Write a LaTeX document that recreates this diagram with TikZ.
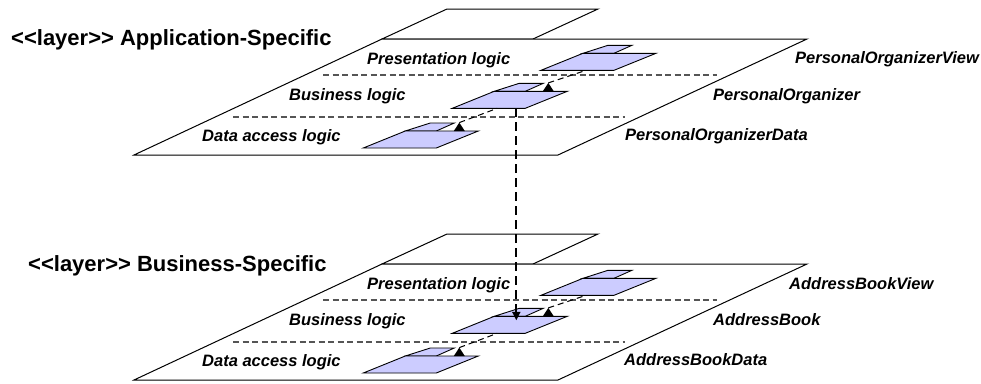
\documentclass[tikz,border=0pt]{standalone}
\usepackage{fontspec}
\setmainfont{Liberation Sans}
\usetikzlibrary{arrows.meta}
\definecolor{pkgfill}{HTML}{CCCCFF}
\definecolor{sepgray}{HTML}{555555}

\tikzset{
  plane/.style={draw=black, line width=1pt, fill=white, line join=miter},
  sep/.style={draw=sepgray, line width=1.2pt, dash pattern=on 6pt off 3.5pt},
  pkgshape/.style={draw=black, line width=0.9pt, fill=pkgfill},
  dep/.style={draw=black, line width=1pt, dash pattern=on 6pt off 4pt},
  vdep/.style={draw=black, line width=2pt, dash pattern=on 9pt off 5pt,
    -{Triangle[width=8pt,length=8.5pt]}},
  title/.style={font=\fontsize{22}{26}\selectfont\bfseries, anchor=base west, inner sep=0pt},
  tier/.style={font=\fontsize{16.5}{20}\selectfont\bfseries\itshape, anchor=base west, inner sep=0pt},
  % UML package icon, placed by the bottom-left corner of its body
  pkg/.pic={
    \path[pkgshape] (42,-17) -- (73,-17) -- (91,-25) -- (67,-25) -- cycle;
    \path[pkgshape] (0,0) -- (73,0) -- (115,-17) -- (42,-17) -- cycle;
    \coordinate (-in) at (45,0);
    \coordinate (-tip) at (96,-25.4);
    \coordinate (-down) at (64,0);
    \coordinate (-head) at (64,-13);
  }
}

\begin{document}
\begin{tikzpicture}[x=1pt,y=-1pt]
\useasboundingbox (0,0) rectangle (981,383);

% ---------- application-specific layer ----------
\path[plane] (447,9) -- (598,9) -- (533,39) -- (382,39) -- cycle;
\path[plane] (382,39) -- (807,39) -- (558,155) -- (134,155) -- cycle;
\draw[sep] (323,75) -- (717,75);
\draw[sep] (233,117) -- (625,117);

\node[title] (appTitle) at (11,45) {<{}<layer>{}> Application-Specific};
\node[tier] (appPres) at (367,64) {Presentation logic};
\node[tier] (appBus) at (289,100) {Business logic};
\node[tier] (appData) at (202,141) {Data access logic};
\node[tier] (appViewName) at (795,63.5) {PersonalOrganizerView};
\node[tier] (appCoreName) at (713,100) {PersonalOrganizer};
\node[tier] (appDataName) at (625,140.5) {PersonalOrganizerData};

\pic (av) at (541,70.3) {pkg};
\pic (ab) at (452.3,108.3) {pkg};
\pic (ad) at (363.3,148) {pkg};

\draw[dep] (ab-tip) -- (av-in);
\fill (ab-tip) -- ++(-5.5,8.4) -- ++(11,0) -- cycle;
\draw[dep] (ad-tip) -- (ab-in);
\fill (ad-tip) -- ++(-5.5,8.4) -- ++(11,0) -- cycle;

% ---------- business-specific layer ----------
\begin{scope}[shift={(0,225)}]
\path[plane] (447,9) -- (598,9) -- (533,39) -- (382,39) -- cycle;
\path[plane] (382,39) -- (807,39) -- (558,155) -- (134,155) -- cycle;
\draw[sep] (323,75) -- (717,75);
\draw[sep] (233,117) -- (625,117);

\node[title] (busTitle) at (28,46.7) {<{}<layer>{}> Business-Specific};
\node[tier] (busPres) at (367,64) {Presentation logic};
\node[tier] (busBus) at (289,100) {Business logic};
\node[tier] (busData) at (202,141) {Data access logic};
\node[tier] (busViewName) at (789,64) {AddressBookView};
\node[tier] (busCoreName) at (713,100) {AddressBook};
\node[tier] (busDataName) at (624,140.5) {AddressBookData};

\pic (bv) at (541,70.3) {pkg};
\pic (bb) at (452.3,108.3) {pkg};
\pic (bd) at (363.3,148) {pkg};

\draw[dep] (bb-tip) -- (bv-in);
\fill (bb-tip) -- ++(-5.5,8.4) -- ++(11,0) -- cycle;
\draw[dep] (bd-tip) -- (bb-in);
\fill (bd-tip) -- ++(-5.5,8.4) -- ++(11,0) -- cycle;
\end{scope}

% ---------- dependency between the layers ----------
\draw[vdep] (ab-down) -- (bb-head);
\end{tikzpicture}
\end{document}
